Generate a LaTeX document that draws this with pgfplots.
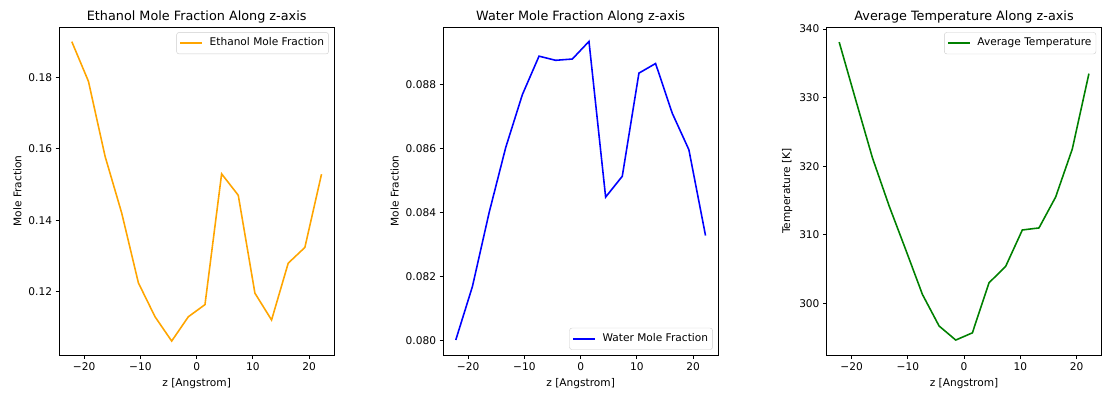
\documentclass[border=0pt]{standalone}
\usepackage{fontspec}
\setmainfont{DejaVu Sans}
\usepackage{pgfplots}
\pgfplotsset{compat=1.18}
\definecolor{mplorange}{HTML}{FFA500}
\definecolor{mplblue}{HTML}{0000FF}
\definecolor{mplgreen}{HTML}{008000}
\pgfplotsset{
  mpl/.style={
    scale only axis, width=274.7bp, height=328bp, anchor=south west,
    xmin=-24.42, xmax=24.42,
    xtick={-20,-10,0,10,20}, xticklabels={−20,−10,0,10,20},
    tick align=outside, xtick pos=bottom, ytick pos=left,
    major tick length=3.7bp, minor tick num=0,
    axis line style={line width=0.84bp, black},
    every tick/.style={black, line width=0.84bp},
    tick label style={font=\fontsize{10.6bp}{12bp}\selectfont, text=black},
    label style={font=\fontsize{10.6bp}{12bp}\selectfont, text=black},
    title style={font=\fontsize{12.8bp}{14bp}\selectfont, at={(0.5,1)}, anchor=south, yshift=-4bp, inner sep=2bp},
    xlabel={z [Angstrom]},
    xlabel style={inner sep=2bp, yshift=-3bp},
    ylabel style={inner sep=2bp, yshift=1.5bp},
    scaled ticks=false,
    legend cell align=left,
    legend image code/.code={\draw[##1, line width=1.58bp] (0bp,0bp) -- (22bp,0bp);},
    legend style={draw=black!20, rounded corners=2.5bp, fill=white,
      font=\fontsize{10.6bp}{12bp}\selectfont, inner xsep=3bp, inner ysep=4bp, column sep=5bp,
      nodes={inner sep=1.5bp, text=black, text height=8bp, text depth=2.5bp}},
    every axis plot/.append style={line width=1.58bp},
  }
}
\begin{document}
\begin{tikzpicture}
\path[use as bounding box] (0,0) rectangle (1112bp,393bp);
\begin{axis}[mpl, at={(59.3bp,38bp)},
  title={Ethanol Mole Fraction Along z-axis},
  ylabel={Mole Fraction},
  ymin=0.1023, ymax=0.1941,
  ytick={0.12,0.14,0.16,0.18}, yticklabels={0.12,0.14,0.16,0.18},
  legend style={at={(1,1)}, anchor=north east, xshift=-5.25bp, yshift=-5.25bp}]
\addplot[mplorange] coordinates {
(-22.2,0.1900) (-19.24,0.1789) (-16.28,0.1579) (-13.32,0.1420) (-10.36,0.1225)
(-7.4,0.1130) (-4.44,0.1062) (-1.48,0.1130) (1.48,0.1164) (4.44,0.1530)
(7.4,0.1470) (10.36,0.1196) (13.32,0.1121) (16.28,0.1280) (19.24,0.1324) (22.2,0.1529)};
\addlegendentry{Ethanol Mole Fraction}
\end{axis}
\begin{axis}[mpl, at={(443.3bp,38bp)},
  title={Water Mole Fraction Along z-axis},
  ylabel={Mole Fraction},
  ymin=0.07956, ymax=0.0898,
  ytick={0.080,0.082,0.084,0.086,0.088}, yticklabels={0.080,0.082,0.084,0.086,0.088},
  legend style={at={(1,0)}, anchor=south east, xshift=-5.25bp, yshift=5.25bp}]
\addplot[mplblue] coordinates {
(-22.2,0.08003) (-19.24,0.0817) (-16.28,0.0840) (-13.32,0.08604) (-10.36,0.08769)
(-7.4,0.08889) (-4.44,0.08876) (-1.48,0.08880) (1.48,0.08935) (4.44,0.08449)
(7.4,0.08514) (10.36,0.08836) (13.32,0.08866) (16.28,0.08711) (19.24,0.08597) (22.2,0.08329)};
\addlegendentry{Water Mole Fraction}
\end{axis}
\begin{axis}[mpl, at={(826.7bp,38bp)},
  title={Average Temperature Along z-axis},
  ylabel={Temperature [K]},
  ymin=292.47, ymax=340.3,
  ytick={300,310,320,330,340}, yticklabels={300,310,320,330,340},
  legend style={at={(1,1)}, anchor=north east, xshift=-5.25bp, yshift=-5.25bp}]
\addplot[mplgreen] coordinates {
(-22.2,338.1) (-19.24,329.6) (-16.28,321.2) (-13.32,314.2) (-10.36,307.8)
(-7.4,301.3) (-4.44,296.7) (-1.48,294.65) (1.48,295.7) (4.44,303.0)
(7.4,305.4) (10.36,310.7) (13.32,311.0) (16.28,315.5) (19.24,322.5) (22.2,333.5)};
\addlegendentry{Average Temperature}
\end{axis}
\end{tikzpicture}
\end{document}
